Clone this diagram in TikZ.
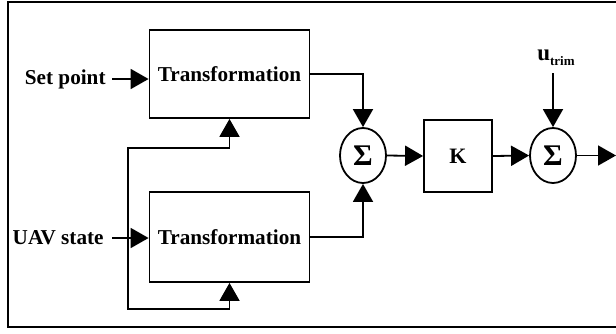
\documentclass[tikz,border=0pt]{standalone}
\usepackage{fontspec}
\setmainfont{Liberation Serif}
\usepackage{tikz}
\usetikzlibrary{shapes.geometric,arrows.meta,positioning,calc}
\tikzset{
  block/.style={rectangle, draw, line width=0.9pt, align=center, font=\fontsize{10.6}{12}\selectfont\bfseries},
  sumnode/.style={ellipse, draw, line width=0.9pt, minimum width=23pt, minimum height=27.5pt, inner sep=0pt, font=\fontsize{15}{16}\selectfont\bfseries},
  lbl/.style={inner sep=0pt, font=\fontsize{10.6}{12}\selectfont\bfseries},
  arrow/.style={-{Triangle[length=9pt, width=10pt]}, line width=0.9pt},
}

\begin{document}
\begin{tikzpicture}[x=0.5pt, y=-0.5pt]
  \useasboundingbox (0,0) rectangle (616,333);
  % Outer frame
  \draw[line width=1pt] (8,2) rectangle (618,327);

  % Transformation blocks
  \node[block, minimum width=80pt, minimum height=44pt] (tf1) at (229.5,74) {Transformation};
  \node[block, minimum width=80pt, minimum height=45pt] (tf2) at (229.5,237) {Transformation};

  % Summing junctions and gain
  \node[sumnode] (sum1) at (363,155.5) {Σ};
  \node[block, minimum width=34pt, minimum height=36pt, font=\fontsize{11}{12}\selectfont\bfseries] (gain) at (458,156) {K};
  \node[sumnode] (sum2) at (553,155.5) {Σ};

  % Inputs
  \node[lbl, anchor=east] (setpt) at (106,79) {Set point};
  \node[lbl, anchor=east] (uav) at (104,238) {UAV state};
  \node[lbl, font=\fontsize{11.5}{12}\selectfont\bfseries] (utrim) at (556,58) {u\raisebox{-0.45ex}{\fontsize{6.5}{7}\selectfont\bfseries trim}};

  \coordinate (br) at (128,238);
  \coordinate (fb1) at (229.5,148);
  \coordinate (fb2) at (229.5,309);
  \coordinate (trim) at (553,73);
  \coordinate (out) at (616,155.5);

  % Signal flow
  \draw[arrow] ([xshift=3pt]setpt.east) -- (setpt.east -| tf1.west);
  \draw[arrow] ([xshift=4pt]uav.east) -- (uav.east -| tf2.west);
  \draw[arrow] (br) |- (fb1) -- (tf1.south);
  \draw[arrow] (br) |- (fb2) -- (tf2.south);
  \draw[arrow] (tf1.east) -| (sum1.north);
  \draw[arrow] (tf2.east) -| (sum1.south);
  \draw[arrow] (sum1.east) -- (gain.west);
  \draw[arrow] (gain.east) -- (sum2.west);
  \draw[arrow] (trim) -- (sum2.north);
  \draw[arrow] (sum2.east) -- (out);
\end{tikzpicture}
\end{document}
